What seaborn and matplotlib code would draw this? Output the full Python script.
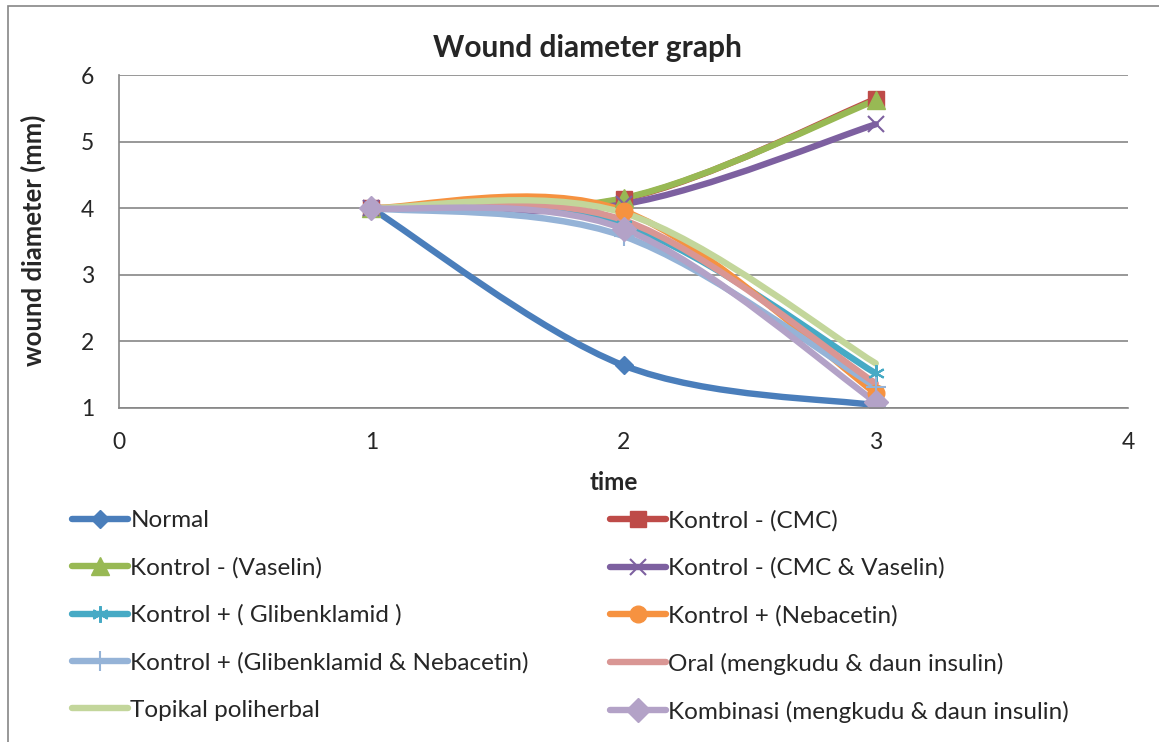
import matplotlib
matplotlib.use("Agg")
import matplotlib.pyplot as plt
import seaborn as sns
from matplotlib.path import Path
from matplotlib.patches import PathPatch, Rectangle
from matplotlib.lines import Line2D

# data
time = [1, 2, 3]
labels = [
    "Normal",
    "Kontrol - (CMC)",
    "Kontrol - (Vaselin)",
    "Kontrol - (CMC & Vaselin)",
    "Kontrol + ( Glibenklamid )",
    "Kontrol + (Nebacetin)",
    "Kontrol + (Glibenklamid & Nebacetin)",
    "Oral (mengkudu & daun insulin)",
    "Topikal poliherbal",
    "Kombinasi (mengkudu & daun insulin)",
]
normal = [4.0, 1.64, 1.04]
kontrol_cmc = [4.0, 4.14, 5.64]
kontrol_vaselin = [4.0, 4.15, 5.62]
kontrol_cmc_vaselin = [4.0, 4.06, 5.26]
kontrol_glib = [4.0, 3.75, 1.52]
kontrol_neb = [4.0, 3.96, 1.22]
kontrol_glib_neb = [4.0, 3.58, 1.32]
oral = [4.0, 3.82, 1.37]
topikal = [4.0, 3.93, 1.67]
kombinasi = [4.0, 3.69, 1.09]
series = [normal, kontrol_cmc, kontrol_vaselin, kontrol_cmc_vaselin, kontrol_glib,
          kontrol_neb, kontrol_glib_neb, oral, topikal, kombinasi]

colors = ['#4A7EBB', '#BE4B48', '#98B954', '#7D60A0', '#46AAC5',
          '#F69240', '#95B3D7', '#D99694', '#C3D69B', '#B3A2C7']
markers = ['D', 's', '^', 'x', (6, 2, 0), 'o', '+', '_', '_', 'D']
msizes = [9, 12, 13, 12, 12, 12, 14, 0.1, 0.1, 12]
mews = [1, 1, 1, 1.5, 1.5, 1, 1.5, 0, 0, 1]

sns.set_style("white")
plt.rcParams['font.family'] = ['Lato', 'DejaVu Sans']

fig = plt.figure(figsize=(11.59, 7.42), dpi=100)
ax = fig.add_axes([119 / 1159, 1 - 408 / 742, (1128 - 119) / 1159, (408 - 75) / 742])

# outer chart border
fig.patches.append(Rectangle((8 / 1159, -0.1), 1.2, 1 - 6 / 742 + 0.1, transform=fig.transFigure,
                             fill=False, edgecolor='#868686', lw=1.2))

lw = 4.6


def smooth_path(xs, ys):
    # bezier segments like excel's smoothed line
    pts = list(zip(xs, ys))
    n = len(pts)
    verts = [pts[0]]
    codes = [Path.MOVETO]
    for i in range(n - 1):
        p0 = pts[i - 1] if i > 0 else pts[i]
        p1 = pts[i]
        p2 = pts[i + 1]
        p3 = pts[i + 2] if i + 2 < n else pts[i + 1]
        c1 = (p1[0] + (p2[0] - p0[0]) / 6, p1[1] + (p2[1] - p0[1]) / 6)
        c2 = (p2[0] - (p3[0] - p1[0]) / 6, p2[1] - (p3[1] - p1[1]) / 6)
        verts += [c1, c2, p2]
        codes += [Path.CURVE4] * 3
    return Path(verts, codes)


handles = []
for vals, lab, c, m, ms, mew in zip(series, labels, colors, markers, msizes, mews):
    ax.add_patch(PathPatch(smooth_path(time, vals), fill=False, edgecolor=c, lw=lw,
                           capstyle='round', joinstyle='round'))
    sns.lineplot(x=time, y=vals, ax=ax, color=c, marker=m, markersize=ms,
                 markeredgecolor=c, markeredgewidth=mew, linestyle='none', legend=False)
    handles.append(Line2D([], [], color=c, lw=lw, marker=m, markersize=ms,
                          markeredgecolor=c, markeredgewidth=mew,
                          solid_capstyle='round', label=lab))

ax.set_xlim(0, 4)
ax.set_ylim(1, 6)
ax.set_xticks([0, 1, 2, 3, 4])
ax.set_yticks([1, 2, 3, 4, 5, 6])
ax.grid(axis='y', color='#868686', lw=1.2)
ax.grid(axis='x', visible=False)
for s in ['top', 'right']:
    ax.spines[s].set_visible(False)
for s in ['left', 'bottom']:
    ax.spines[s].set_color('#868686')
    ax.spines[s].set_linewidth(1.2)
ax.tick_params(axis='both', direction='out', length=6, width=1.2, color='#868686',
               labelsize=16.5)
ax.tick_params(axis='y', pad=12)
ax.tick_params(axis='x', pad=11)
ax.set_axisbelow(True)

# title is centred on the whole chart area
fig.text(587 / 1159, 1 - 48 / 742, "Wound diameter graph", fontsize=21.5,
         fontweight='bold', ha='center', va='center')
ax.set_xlabel("time", fontsize=17.5, fontweight='bold')
ax.xaxis.set_label_coords((614 - 119) / (1128 - 119), -(483 - 408) / (408 - 75))
ax.xaxis.label.set_va('center')
ax.set_ylabel("wound diameter (mm)", fontsize=18.5, fontweight='bold')
ax.yaxis.set_label_coords(-(119 - 33) / (1128 - 119), (408 - 240) / (408 - 75))
ax.yaxis.label.set_va('center')

leg_kw = dict(frameon=False, fontsize=17.5, handlelength=2.3, handletextpad=0.1,
              labelspacing=1.07, borderaxespad=0, borderpad=0)
leg1 = fig.legend(handles=handles[0::2], loc='upper left',
                  bbox_to_anchor=(72 / 1159, 1 - 510 / 742), **leg_kw)
leg2 = fig.legend(handles=handles[1::2], loc='upper left',
                  bbox_to_anchor=(610 / 1159, 1 - 510 / 742), **leg_kw)

fig.savefig("out.png", dpi=100)
